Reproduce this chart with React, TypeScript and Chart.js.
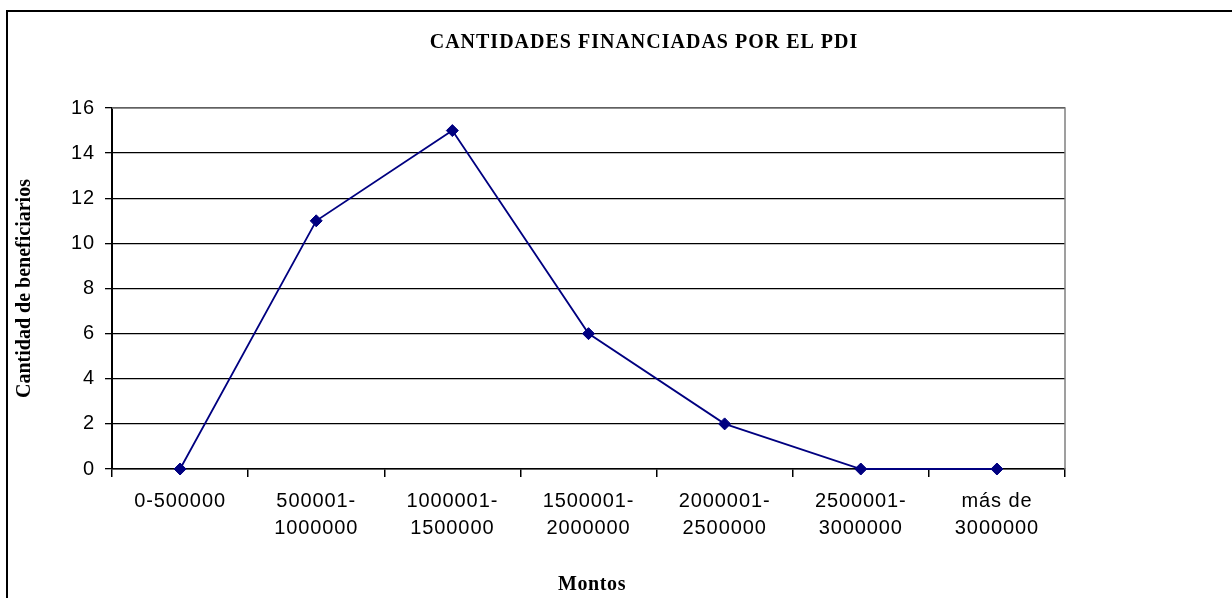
import React, { useEffect, useRef } from "react";
import { Chart, registerables } from "chart.js";

Chart.register(...registerables);

const chartTitle = "CANTIDADES FINANCIADAS POR EL PDI";
const xAxisTitle = "Montos";
const yAxisTitle = "Cantidad de beneficiarios";
const categories: (string | string[])[] = [
  "0-500000",
  ["500001-", "1000000"],
  ["1000001-", "1500000"],
  ["1500001-", "2000000"],
  ["2000001-", "2500000"],
  ["2500001-", "3000000"],
  ["más de", "3000000"],
];
const beneficiarios = [0, 11, 15, 6, 2, 0, 0];
const yMin = 0;
const yMax = 16;
const yStep = 2;

const W = 1232;
const H = 598;
const SERIF = "'Liberation Serif', 'Times New Roman', serif";
const SANS = "'Liberation Sans', Arial, sans-serif";
const TICK_SPACING = "0.9px";

const decorPlugin = {
  id: "decor",
  beforeDraw(chart: any) {
    const { ctx } = chart;
    ctx.save();
    ctx.fillStyle = "#ffffff";
    ctx.fillRect(0, 0, chart.width, chart.height);
    ctx.strokeStyle = "#000000";
    ctx.lineWidth = 2;
    ctx.strokeRect(7, 11, chart.width + 50, chart.height + 50);
    ctx.restore();
    (ctx as any).letterSpacing = TICK_SPACING;
  },
  afterDraw(chart: any) {
    const { ctx, chartArea } = chart;
    const { left, right, top, bottom } = chartArea;
    ctx.save();
    (ctx as any).letterSpacing = "0px";
    // plot frame (top + right) in gray
    ctx.strokeStyle = "#808080";
    ctx.lineWidth = 1.5;
    ctx.beginPath();
    ctx.moveTo(left, top);
    ctx.lineTo(right, top);
    ctx.lineTo(right, bottom);
    ctx.stroke();
    // titles
    ctx.fillStyle = "#000000";
    ctx.textAlign = "center";
    ctx.textBaseline = "middle";
    (ctx as any).letterSpacing = "1px";
    ctx.font = "bold 20px " + SERIF;
    ctx.fillText(chartTitle, 644, 43);
    (ctx as any).letterSpacing = "0.6px";
    ctx.font = "bold 20px " + SERIF;
    ctx.fillText(xAxisTitle, 592, 585);
    (ctx as any).letterSpacing = "0px";
    ctx.translate(25, (top + bottom) / 2);
    ctx.rotate(-Math.PI / 2);
    ctx.fillText(yAxisTitle, 0, 0);
    ctx.restore();
  },
};

export default function App() {
  const ref = useRef<HTMLCanvasElement>(null);
  useEffect(() => {
    if (!ref.current) return;
    const ctx0 = ref.current.getContext("2d") as any;
    if (ctx0) ctx0.letterSpacing = TICK_SPACING;
    const chart = new Chart(ref.current, {
      type: "line",
      data: {
        labels: categories,
        datasets: [
          {
            data: beneficiarios,
            borderColor: "#000080",
            backgroundColor: "#000080",
            borderWidth: 1.8,
            pointStyle: "rectRot",
            pointRadius: 6,
            pointBorderWidth: 1,
            pointBackgroundColor: "#000080",
            pointBorderColor: "#000080",
            tension: 0,
            fill: false,
            clip: false as any,
          },
        ],
      },
      options: {
        responsive: false,
        animation: false,
        devicePixelRatio: 1,
        layout: { padding: { top: 108, right: 167, bottom: 0, left: 0 } },
        plugins: {
          legend: { display: false },
          title: { display: false },
          tooltip: { enabled: false },
        },
        scales: {
          x: {
            type: "category",
            offset: true,
            afterFit(scale: any) {
              scale.height = 129;
            },
            grid: {
              offset: true,
              drawOnChartArea: false,
              drawTicks: true,
              tickLength: 8,
              color: "#000000",
              lineWidth: 1.5,
            },
            border: { display: true, color: "#000000", width: 1.5 },
            ticks: {
              color: "#000000",
              maxRotation: 0,
              autoSkip: false,
              padding: 11,
              font: { family: SANS, size: 20, lineHeight: 1.35 },
            },
          },
          y: {
            min: yMin,
            max: yMax,
            afterFit(scale: any) {
              scale.width = 112;
            },
            grid: {
              color: "#000000",
              lineWidth: 1.3,
              drawTicks: true,
              tickLength: 7,
            },
            border: { display: true, color: "#000000", width: 2 },
            ticks: {
              stepSize: yStep,
              color: "#000000",
              padding: 10,
              font: { family: SANS, size: 20 },
            },
          },
        },
      },
      plugins: [decorPlugin],
    });
    return () => chart.destroy();
  }, []);
  return (
    <div style={{ position: "absolute", left: 0, top: 0, width: W, height: H }}>
      <canvas ref={ref} width={W} height={H} style={{ width: W, height: H, display: "block" }} />
    </div>
  );
}
